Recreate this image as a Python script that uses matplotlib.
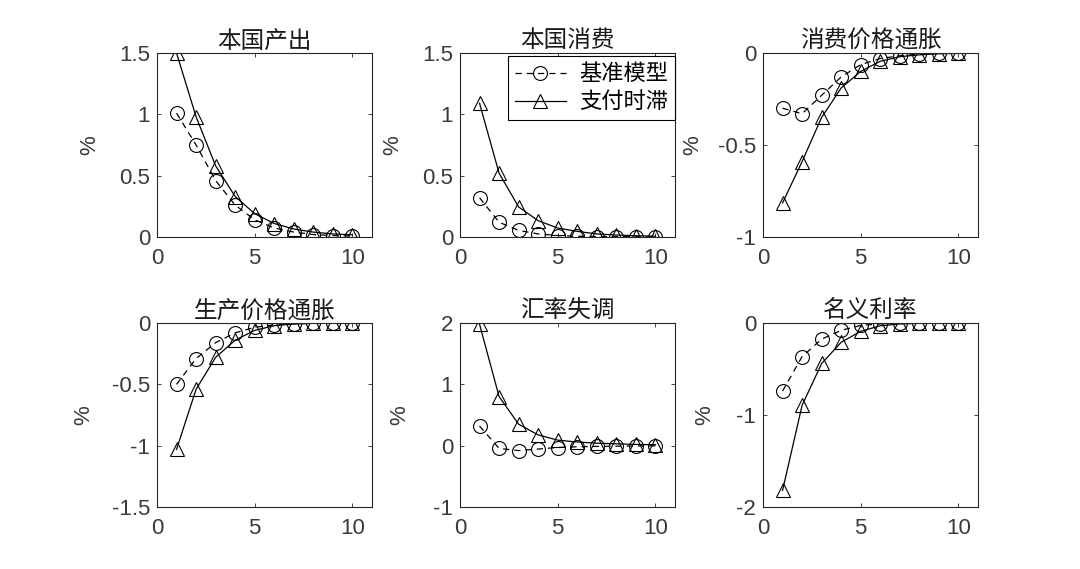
import numpy as np
import matplotlib
matplotlib.use("Agg")
import matplotlib.pyplot as plt

plt.rcParams['font.family'] = ['Liberation Sans', 'Noto Sans CJK SC', 'DejaVu Sans']

periods = np.arange(1, 11)
titles = ["本国产出", "本国消费", "消费价格通胀", "生产价格通胀", "汇率失调", "名义利率"]
series_names = ["基准模型", "支付时滞"]

# baseline model (dashed, circles)
base_output = [1.01, 0.75, 0.46, 0.26, 0.14, 0.073, 0.04, 0.02, 0.012, 0.008]
base_cons = [0.32, 0.12, 0.054, 0.025, 0.012, 0.006, 0.004, 0.003, 0.002, 0.001]
base_cpi = [-0.30, -0.33, -0.23, -0.13, -0.063, -0.03, -0.015, -0.006, -0.002, -0.001]
base_ppi = [-0.50, -0.29, -0.16, -0.08, -0.035, -0.015, -0.006, -0.003, -0.001, 0.0]
base_fx = [0.32, -0.045, -0.08, -0.055, -0.03, -0.018, -0.012, -0.008, -0.005, -0.003]
base_rate = [-0.74, -0.365, -0.175, -0.08, -0.026, -0.01, -0.004, -0.002, -0.001, 0.0]

# payment lag model (solid, triangles)
lag_output = [1.50, 0.98, 0.58, 0.33, 0.19, 0.11, 0.065, 0.04, 0.025, 0.018]
lag_cons = [1.09, 0.52, 0.245, 0.133, 0.073, 0.046, 0.025, 0.016, 0.01, 0.007]
lag_cpi = [-0.815, -0.59, -0.35, -0.19, -0.10, -0.045, -0.02, -0.01, -0.004, -0.002]
lag_ppi = [-1.03, -0.54, -0.28, -0.14, -0.06, -0.022, -0.008, -0.003, -0.001, 0.0]
lag_fx = [1.98, 0.80, 0.35, 0.175, 0.09, 0.06, 0.04, 0.03, 0.02, 0.015]
lag_rate = [-1.82, -0.895, -0.44, -0.21, -0.09, -0.03, -0.01, -0.004, -0.002, -0.001]

base_all = [base_output, base_cons, base_cpi, base_ppi, base_fx, base_rate]
lag_all = [lag_output, lag_cons, lag_cpi, lag_ppi, lag_fx, lag_rate]

ylims = [(0, 1.5), (0, 1.5), (-1, 0), (-1.5, 0), (-1, 2), (-2, 0)]
yticks = [[0, 0.5, 1, 1.5], [0, 0.5, 1, 1.5], [-1, -0.5, 0],
          [-1.5, -1, -0.5, 0], [-1, 0, 1, 2], [-2, -1, 0]]
xticks = [0, 5, 10]

W, H = 1080, 569
lefts = [157, 460, 763]
tops = [53, 323]
aw, ah = 215, 184
label_x = [-0.265, -0.265, -0.28, -0.29, -0.23, -0.22]

fig = plt.figure(figsize=(W / 100, H / 100), dpi=100)
axc = "#262626"

for i in range(6):
    r, c = divmod(i, 3)
    ax = fig.add_axes([lefts[c] / W, 1 - (tops[r] + ah) / H, aw / W, ah / H])
    l1, = ax.plot(periods, base_all[i], color="k", lw=0.9, ls=(0, (5, 4)),
                  marker="o", ms=10, mfc="none", mec="k", mew=0.8)
    l2, = ax.plot(periods, lag_all[i], color="k", lw=0.9, ls="-",
                  marker="^", ms=10.5, mfc="none", mec="k", mew=0.8)
    ax.set_xlim(0, 11)
    ax.set_ylim(*ylims[i])
    ax.set_xticks(xticks)
    ax.set_yticks(yticks[i])
    ax.set_yticklabels([f"{v:g}" for v in yticks[i]])
    ax.tick_params(direction="in", top=True, right=True, length=3, width=0.6,
                   labelsize=16, colors=axc, labelcolor="#3a3a3a")
    ax.tick_params(axis="y", pad=5)
    ax.tick_params(axis="x", pad=8)
    for s in ax.spines.values():
        s.set_color(axc)
        s.set_linewidth(0.8)
    ax.set_title(titles[i], fontsize=17, family=['Noto Sans CJK SC'], pad=4,
                 color="#1a1a1a")
    ax.set_ylabel("%", fontsize=16, color="#3a3a3a")
    ax.yaxis.set_label_coords(label_x[i], 0.5)
    if i == 1:
        leg = ax.legend([l1, l2], series_names, loc="upper right",
                        bbox_to_anchor=(1.0, 0.985), fancybox=False,
                        edgecolor="k", framealpha=1, handlelength=2.3,
                        prop={'family': 'Noto Sans CJK SC', 'size': 16},
                        borderpad=0.3, labelspacing=0.22, handletextpad=0.6,
                        borderaxespad=0)
        leg.get_frame().set_linewidth(0.8)

fig.savefig("out.png", dpi=100)
